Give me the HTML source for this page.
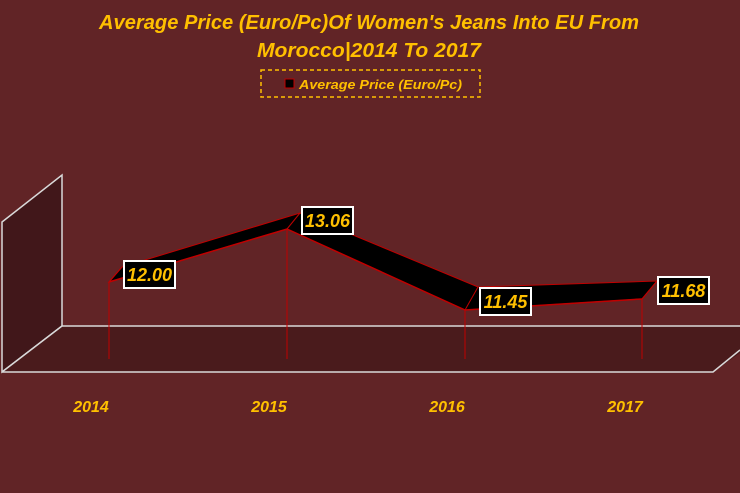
<!DOCTYPE html>
<html><head><style>html,body{margin:0;padding:0;background:#612426;}svg{display:block}</style></head>
<body>
<svg width="740" height="493" viewBox="0 0 740 493" xmlns="http://www.w3.org/2000/svg" font-family="Liberation Sans, sans-serif">
<rect width="740" height="493" fill="#612426"/>
<g fill="#ffc000" font-weight="bold" font-style="italic" font-size="20" text-anchor="middle">
<text x="369" y="29" textLength="540" lengthAdjust="spacingAndGlyphs">Average Price (Euro/Pc)Of Women's Jeans Into EU From</text>
<text x="369" y="57" textLength="224" lengthAdjust="spacingAndGlyphs">Morocco|2014 To 2017</text>
</g>
<rect x="261" y="70" width="219" height="27" fill="none" stroke="#ffc000" stroke-width="1.5" stroke-dasharray="4,3"/>
<rect x="285" y="79" width="9" height="9" fill="#000" stroke="#c00000" stroke-width="1"/>
<text x="299" y="89" fill="#ffc000" font-weight="bold" font-style="italic" font-size="13" textLength="163" lengthAdjust="spacingAndGlyphs">Average Price (Euro/Pc)</text>
<polygon points="2,222 62,175 62,326 2,372" fill="#41171a" stroke="#d9d9d9" stroke-width="1.5"/>
<polygon points="62,326 740,326 740,353 713,372 2,372" fill="#4a1b1c"/>
<polyline points="62,326 740,326" stroke="#d9d9d9" stroke-width="1.5" fill="none"/>
<polyline points="2,372 713,372 740,350" stroke="#d9d9d9" stroke-width="1.5" fill="none"/>
<polyline points="62,326 2,372" stroke="#d9d9d9" stroke-width="1.5" fill="none"/>
<g stroke="#c00000" stroke-width="1">
<line x1="109" y1="282" x2="109" y2="359"/><line x1="287" y1="229" x2="287" y2="359"/>
<line x1="465" y1="310" x2="465" y2="359"/><line x1="642" y1="299" x2="642" y2="359"/>
</g>
<polygon points="109,282 287,229 465,310 642,299 657,281 478,287 300,213 122,267" fill="#000" stroke="#c00000" stroke-width="1"/>
<polyline points="109,282 287,229 465,310 642,299" fill="none" stroke="#c00000" stroke-width="1.5"/>
<line x1="109" y1="282" x2="122" y2="267" stroke="#c00000"/>
<line x1="287" y1="229" x2="300" y2="213" stroke="#c00000"/>
<line x1="465" y1="310" x2="478" y2="287" stroke="#c00000"/>
<line x1="642" y1="299" x2="657" y2="281" stroke="#c00000"/>
<g font-weight="bold" font-style="italic" font-size="18" fill="#ffc000" text-anchor="middle">
<rect x="124" y="261" width="51" height="27" fill="#000" stroke="#fff" stroke-width="2"/>
<text x="149.5" y="281">12.00</text>
<rect x="302" y="207" width="51" height="27" fill="#000" stroke="#fff" stroke-width="2"/>
<text x="327.5" y="227">13.06</text>
<rect x="480" y="288" width="51" height="27" fill="#000" stroke="#fff" stroke-width="2"/>
<text x="505.5" y="308">11.45</text>
<rect x="658" y="277" width="51" height="27" fill="#000" stroke="#fff" stroke-width="2"/>
<text x="683.5" y="297">11.68</text>
</g>
<g font-weight="bold" font-style="italic" font-size="16" fill="#ffc000" text-anchor="middle">
<text x="91" y="412">2014</text><text x="269" y="412">2015</text>
<text x="447" y="412">2016</text><text x="625" y="412">2017</text>
</g>
</svg>
</body></html>
